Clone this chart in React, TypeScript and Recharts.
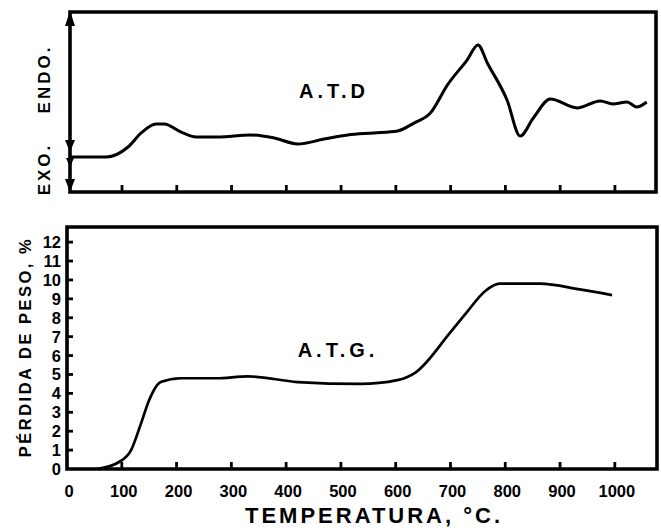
import React from 'react';
import { LineChart, Line, XAxis, YAxis, ReferenceArea } from 'recharts';

// A.T.D (differential thermal analysis) – arbitrary units
const atdTemp = [7, 71, 111, 135, 162, 177, 208, 235, 275, 335, 378, 421, 469, 512, 560, 603, 633, 663, 694, 730, 750, 767, 803, 827, 851, 882, 931, 973, 996, 1022, 1040, 1058];
const atdValue = [19.4, 19.4, 25, 32.8, 37.8, 37.8, 33.3, 30.6, 30.6, 31.7, 30, 26.7, 29.4, 31.7, 32.8, 33.9, 38.3, 43.9, 59.4, 73.3, 81.7, 71.7, 51.1, 31.1, 41.1, 51.7, 46.7, 50.6, 48.9, 50, 47.2, 50];

// A.T.G. (thermogravimetric analysis) – weight loss %
const atgTemp = [55, 95, 117, 135, 150, 171, 208, 272, 330, 421, 536, 603, 636, 699, 730, 763, 790, 863, 936, 995];
const atgValue = [0, 0.37, 1.0, 2.4, 3.65, 4.6, 4.8, 4.8, 4.9, 4.6, 4.5, 4.7, 5.1, 7.2, 8.3, 9.4, 9.8, 9.8, 9.5, 9.2];

const xTickValues = [0, 100, 200, 300, 400, 500, 600, 700, 800, 900, 1000];
const yTickValues = [0, 1, 2, 3, 4, 5, 6, 7, 8, 9, 10, 11, 12];

const atdData = atdTemp.map((t, i) => ({ t, v: atdValue[i] }));
const atgData = atgTemp.map((t, i) => ({ t, v: atgValue[i] }));

const FONT = '"Liberation Sans", Arial, sans-serif';

const TopTick = (props: any) => {
  const { x, y, payload } = props;
  if (payload.value === 0) return <g />;
  return <line x1={x} x2={x} y1={y} y2={y - 7} stroke="#000" strokeWidth={2.8} />;
};

const BottomTick = (props: any) => {
  const { x, y, payload } = props;
  return (
    <g>
      {payload.value !== 0 && <line x1={x} x2={x} y1={y} y2={y - 7} stroke="#000" strokeWidth={2.8} />}
      <text x={x + 2} y={y + 28} textAnchor="middle" fontFamily={FONT} fontWeight={700} fontSize={16.5} fill="#000">
        {payload.value}
      </text>
    </g>
  );
};

const LeftTick = (props: any) => {
  const { x, y, payload } = props;
  return (
    <g>
      {payload.value !== 0 && <line x1={x} x2={x + 6} y1={y} y2={y} stroke="#000" strokeWidth={2.8} />}
      <text x={x - 6} y={y + 6} textAnchor="end" fontFamily={FONT} fontWeight={700} fontSize={16.5} fill="#000">
        {payload.value}
      </text>
    </g>
  );
};

export default function App() {
  return (
    <div style={{ position: 'absolute', left: 0, top: 0, width: 661, height: 531, background: '#fff', overflow: 'hidden' }}>
      <div style={{ position: 'absolute', left: 0, top: 0 }}>
        <LineChart width={661} height={200} data={atdData} margin={{ top: 12, right: 5, left: 70, bottom: 0 }}>
          <XAxis
            dataKey="t"
            type="number"
            domain={[5, 1075]}
            ticks={xTickValues.slice(1)}
            allowDataOverflow
            height={8}
            axisLine={false}
            tickLine={false}
            tickSize={0}
            tickMargin={0}
            tick={<TopTick />}
            interval={0}
          />
          <YAxis type="number" domain={[0, 100]} hide allowDataOverflow />
          <ReferenceArea x1={5} x2={1075} y1={0} y2={100} fill="none" stroke="#000" strokeWidth={3.6} ifOverflow="visible" />
          <Line dataKey="v" type="monotone" stroke="#000" strokeWidth={3} dot={false} isAnimationActive={false} />
        </LineChart>
      </div>
      <div style={{ position: 'absolute', left: 0, top: 0 }}>
        <LineChart width={661} height={531} data={atgData} margin={{ top: 227, right: 4, left: 0, bottom: 0 }}>
          <XAxis
            dataKey="t"
            type="number"
            domain={[0, 1077]}
            ticks={xTickValues}
            allowDataOverflow
            height={62}
            axisLine={false}
            tickLine={false}
            tickSize={0}
            tickMargin={0}
            tick={<BottomTick />}
            interval={0}
          />
          <YAxis
            type="number"
            domain={[0, 12.8]}
            ticks={yTickValues}
            allowDataOverflow
            width={67}
            axisLine={false}
            tickLine={false}
            tickSize={0}
            tickMargin={0}
            tick={<LeftTick />}
            interval={0}
          />
          <ReferenceArea x1={0} x2={1077} y1={0} y2={12.8} fill="none" stroke="#000" strokeWidth={3.6} ifOverflow="visible" />
          <Line dataKey="v" type="monotone" stroke="#000" strokeWidth={2.7} dot={false} isAnimationActive={false} />
        </LineChart>
      </div>
      <svg width={661} height={531} style={{ position: 'absolute', left: 0, top: 0, pointerEvents: 'none' }}>
        <g fill="#000">
          <polygon points="70,11 65,26 75,26" />
          <polygon points="70,152 65,140 75,140" />
          <polygon points="70,167 66,158 74,158" />
          <polygon points="70,192 65,179 75,179" />
        </g>
        <g fontFamily={FONT} fontWeight={700} fill="#000">
          <text x={44} y={79} fontSize={17} letterSpacing={3} textAnchor="middle" dominantBaseline="central" transform="rotate(-90 44 79)">ENDO.</text>
          <text x={44} y={169} fontSize={17} letterSpacing={3} textAnchor="middle" dominantBaseline="central" transform="rotate(-90 44 169)">EXO.</text>
          <text x={334} y={91} fontSize={20} letterSpacing={4} textAnchor="middle" dominantBaseline="central">A.T.D</text>
          <text x={338} y={350} fontSize={20} letterSpacing={4} textAnchor="middle" dominantBaseline="central">A.T.G.</text>
          <text x={25} y={347} fontSize={16.5} letterSpacing={2.5} textAnchor="middle" dominantBaseline="central" transform="rotate(-90 25 347)">PÉRDIDA DE PESO, %</text>
          <text x={374} y={515} fontSize={22} letterSpacing={3} textAnchor="middle" dominantBaseline="central">TEMPERATURA, °C.</text>
        </g>
      </svg>
    </div>
  );
}
